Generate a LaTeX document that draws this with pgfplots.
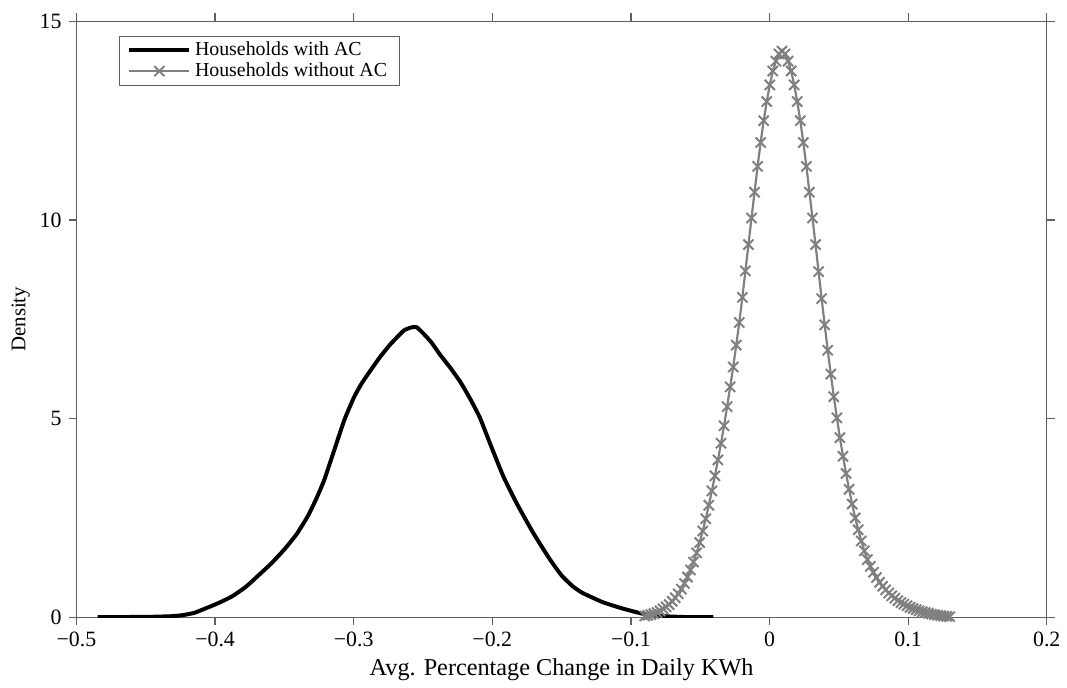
\documentclass[border=0pt]{standalone}
\usepackage{fontspec}
\setmainfont{Liberation Serif}
\usepackage{pgfplots}
\pgfplotsset{compat=1.18}
\definecolor{curvegray}{RGB}{128,128,128}
\definecolor{framegray}{RGB}{95,95,95}

% kernel density, households with AC
\pgfplotstableread{
x y
-0.4847 0.000
-0.4650 0.005
-0.4450 0.012
-0.4320 0.025
-0.4238 0.050
-0.4150 0.110
-0.4070 0.220
-0.3980 0.350
-0.3880 0.520
-0.3780 0.760
-0.3688 1.050
-0.3590 1.370
-0.3497 1.720
-0.3410 2.100
-0.3330 2.550
-0.3270 2.980
-0.3211 3.470
-0.3139 4.220
-0.3067 4.970
-0.2996 5.550
-0.2940 5.900
-0.2877 6.220
-0.2810 6.550
-0.2733 6.880
-0.2637 7.220
-0.2578 7.300
-0.2545 7.300
-0.2494 7.130
-0.2440 6.920
-0.2375 6.600
-0.2303 6.280
-0.2230 5.920
-0.2160 5.500
-0.2089 5.020
-0.2017 4.380
-0.1921 3.550
-0.1826 2.880
-0.1706 2.130
-0.1587 1.470
-0.1500 1.050
-0.1420 0.780
-0.1348 0.610
-0.1204 0.380
-0.1061 0.220
-0.0918 0.090
-0.0820 0.045
-0.0727 0.020
-0.0600 0.005
-0.0405 0.000
}\withac

% households without AC
\pgfplotstableread{
x y
-0.0900 0.030
-0.0878 0.045
-0.0856 0.065
-0.0834 0.090
-0.0812 0.120
-0.0790 0.160
-0.0768 0.210
-0.0746 0.260
-0.0724 0.320
-0.0702 0.400
-0.0680 0.490
-0.0658 0.590
-0.0636 0.710
-0.0614 0.850
-0.0592 1.010
-0.0570 1.190
-0.0548 1.390
-0.0526 1.620
-0.0504 1.880
-0.0482 2.170
-0.0460 2.480
-0.0438 2.820
-0.0416 3.180
-0.0394 3.560
-0.0372 3.960
-0.0350 4.380
-0.0328 4.820
-0.0306 5.300
-0.0284 5.800
-0.0262 6.300
-0.0240 6.850
-0.0218 7.420
-0.0196 8.050
-0.0174 8.720
-0.0152 9.380
-0.0130 10.050
-0.0108 10.700
-0.0086 11.350
-0.0064 11.950
-0.0042 12.500
-0.0020 12.980
0.0002 13.400
0.0024 13.750
0.0046 14.000
0.0068 14.180
0.0090 14.250
0.0112 14.180
0.0134 14.000
0.0156 13.750
0.0178 13.400
0.0200 12.980
0.0222 12.500
0.0244 11.950
0.0266 11.350
0.0288 10.700
0.0310 10.050
0.0332 9.380
0.0354 8.700
0.0376 8.020
0.0398 7.360
0.0420 6.720
0.0442 6.120
0.0464 5.550
0.0486 5.020
0.0508 4.520
0.0530 4.050
0.0552 3.620
0.0574 3.220
0.0596 2.850
0.0618 2.500
0.0640 2.200
0.0662 1.920
0.0684 1.670
0.0706 1.450
0.0728 1.280
0.0750 1.130
0.0772 1.000
0.0794 0.880
0.0816 0.780
0.0838 0.690
0.0860 0.610
0.0882 0.540
0.0904 0.480
0.0926 0.420
0.0948 0.370
0.0970 0.330
0.0992 0.290
0.1014 0.250
0.1036 0.220
0.1058 0.190
0.1080 0.160
0.1102 0.140
0.1124 0.120
0.1146 0.100
0.1168 0.080
0.1190 0.065
0.1212 0.050
0.1234 0.040
0.1256 0.030
0.1278 0.020
0.1300 0.015
}\withoutac

\begin{document}
\begin{tikzpicture}
\begin{axis}[
    scale only axis,
    width=488.5pt, height=300pt,
    xmin=-0.5, xmax=0.2,
    ymin=0, ymax=15,
    xtick={-0.5,-0.4,-0.3,-0.2,-0.1,0,0.1,0.2},
    xticklabels={−0.5,−0.4,−0.3,−0.2,−0.1,0,0.1,0.2},
    ytick={0,5,10,15},
    yticklabels={0,5,10,15},
    ticklabel style={font=\fontsize{11}{13}\selectfont},
    tick align=outside,
    major tick length=4pt,
    tick style={framegray, line width=0.6pt},
    axis line style={framegray, line width=0.6pt},
    xlabel={Avg. Percentage Change in Daily KWh},
    ylabel={Density},
    xlabel style={font=\fontsize{12.2}{14}\selectfont, yshift=1pt},
    ylabel style={font=\fontsize{10.5}{12}\selectfont, yshift=-2pt},
    legend style={at={(0.044,0.976)}, anchor=north west, draw=framegray,
                  font=\fontsize{10}{12}\selectfont, row sep=-2pt,
                  inner xsep=4pt, inner ysep=1pt},
    legend cell align=left,
    legend image code/.code={%
        \draw[mark repeat=2, mark phase=2, #1]
            plot coordinates {(0pt,0pt) (15pt,0pt) (30pt,0pt)};},
]
\addplot[black, line width=2pt, line join=round, smooth, tension=0.3,
         no markers] table {\withac};
\addlegendentry{Households with AC}
\addplot[curvegray, line width=1.1pt, mark=x, mark size=3.6pt,
         mark options={line width=1pt}] table {\withoutac};
\addlegendentry{Households without AC}
\end{axis}
\path (current axis.south west) ++(-38.5pt,-33pt) rectangle
      ([shift={(6.5pt,10.75pt)}]current axis.north east);
\end{tikzpicture}
\end{document}
